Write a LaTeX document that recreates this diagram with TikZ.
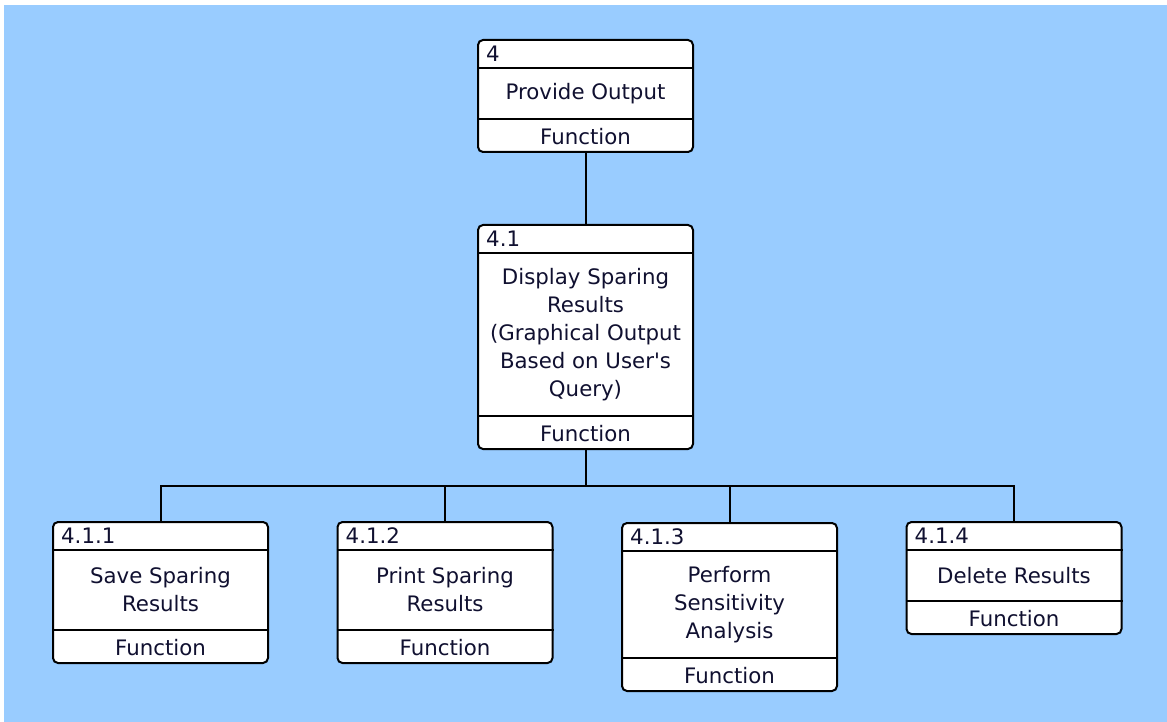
\documentclass[tikz,border=0pt]{standalone}
\usepackage{fontspec}
\setmainfont{DejaVu Sans}[Ligatures=TeXOff]
\usetikzlibrary{calc}
\usetikzlibrary{positioning}

\definecolor{fondo}{HTML}{99CCFF}
\definecolor{tinta}{HTML}{101030}

\tikzset{
	caja/.style= {draw, line width=2pt, fill=white, rounded corners=5pt, minimum width=215pt, inner sep=0pt, anchor=north},
	linea/.style= {line width=2pt},
	texto/.style= {text=tinta, font=\fontsize{21.3}{28}\selectfont, align=center, inner sep=0pt},
}

% caja de funcion: nombre, x, y (arriba), alto, numero, texto
\newcommand{\funcion}[6]{
	\node [caja, minimum height=#4pt] (#1) at (#2,#3) {};
	\draw [linea] ([yshift=-29pt]#1.north west) -- ([yshift=-29pt]#1.north east);
	\draw [linea] ([yshift=34pt]#1.south west) -- ([yshift=34pt]#1.south east);
	\node [texto, anchor=west] (#1-num) at ([xshift=9pt, yshift=-14.5pt]#1.north west) {#5};
	\node [texto] (#1-txt) at ($([yshift=-29pt]#1.north)!0.5!([yshift=34pt]#1.south)$) {#6};
	\node [texto] (#1-tipo) at ([yshift=16.5pt]#1.south) {Function};
}

\begin{document}
\begin{tikzpicture}[x=1pt, y=-1pt]
	% fondo
	\useasboundingbox (0,0) rectangle (1167,722);
	\fill [white] (0,0) rectangle (1167,722);
	\fill [fondo] (4,5) rectangle (1167,722);

	% cajas
	\funcion{f4}{585.5}{39}{112}{4}{Provide Output}
	\funcion{f41}{585.5}{224}{224}{4.1}{Display Sparing\\Results\\(Graphical Output\\Based on User's\\Query)}
	\funcion{f411}{160.5}{521}{141}{4.1.1}{Save Sparing\\Results}
	\funcion{f412}{445}{521}{141}{4.1.2}{Print Sparing\\Results}
	\funcion{f413}{729.5}{522}{168}{4.1.3}{Perform\\Sensitivity\\Analysis}
	\funcion{f414}{1014}{521}{112}{4.1.4}{Delete Results}

	% conectores
	\coordinate (bus) at (585.5,486);
	\draw [linea] (f4.south) -- (f41.north);
	\draw [linea] (f41.south) -- (bus);
	\draw [linea] (f411.north) -- (f411.north |- bus) -- (f414.north |- bus) -- (f414.north);
	\draw [linea] (f412.north) -- (f412.north |- bus);
	\draw [linea] (f413.north) -- (f413.north |- bus);
\end{tikzpicture}
\end{document}
